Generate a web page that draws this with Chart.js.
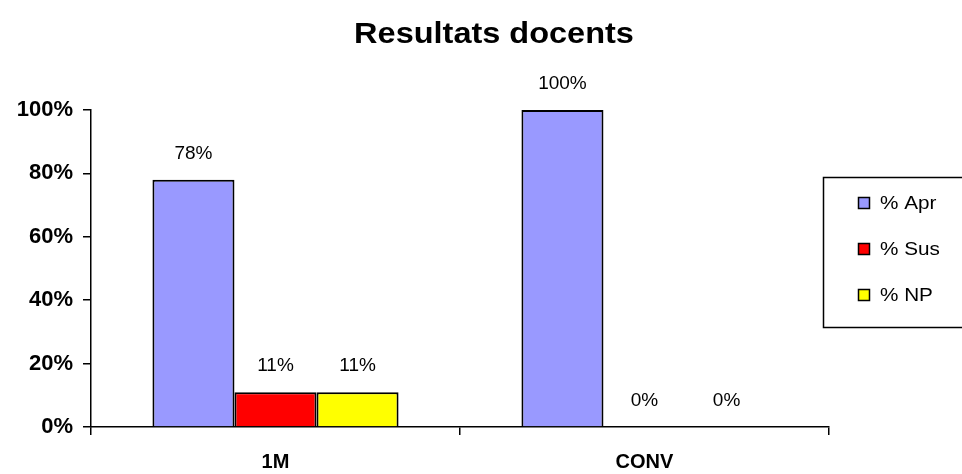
<!DOCTYPE html>
<html>
<head>
<meta charset="utf-8">
<script src="https://cdn.jsdelivr.net/npm/chart.js@4"></script>
<style>
  html, body { margin: 0; padding: 0; background: #fff; }
  #wrap { width: 962px; height: 474px; }
</style>
</head>
<body>
<div id="wrap"><canvas id="myChart" width="962" height="474"></canvas></div>
<script>
// data
var categories = ["1M", "CONV"];
var seriesNames = ["% Apr", "% Sus", "% NP"];
var aprValues = [78, 100];
var susValues = [11, 0];
var npValues = [11, 0];
var yTicks = [0, 20, 40, 60, 80, 100];
var colors = ["#9999ff", "#ff0000", "#ffff00"];

var FONT = "'Liberation Sans', Arial, sans-serif";

// text drawn a bit wider, like the original
function wideText(ctx, txt, x, y, sx) {
  ctx.save();
  ctx.translate(x, y);
  ctx.scale(sx, 1);
  ctx.fillText(txt, 0, 0);
  ctx.restore();
}

// title, value labels and the boxed legend
var extras = {
  id: 'extras',
  afterDatasetsDraw: function (chart) {
    var ctx = chart.ctx;
    ctx.save();
    ctx.fillStyle = '#000';
    ctx.textAlign = 'center';

    // title
    ctx.textBaseline = 'alphabetic';
    ctx.font = 'bold 29px ' + FONT;
    wideText(ctx, 'Resultats docents', 494, 43, 1.12);

    // value labels above bars
    ctx.textBaseline = 'middle';
    ctx.font = '19px ' + FONT;
    chart.data.datasets.forEach(function (ds, i) {
      chart.getDatasetMeta(i).data.forEach(function (bar, j) {
        ctx.fillText(ds.data[j] + '%', bar.x, bar.y - 26);
      });
    });

    // legend
    ctx.lineWidth = 1.5;
    ctx.strokeStyle = '#000';
    ctx.strokeRect(823.5, 177.5, 150, 150);
    ctx.textAlign = 'left';
    ctx.font = '18px ' + FONT;
    chart.data.datasets.forEach(function (ds, i) {
      var y = 203 + i * 46;
      ctx.fillStyle = ds.backgroundColor;
      ctx.fillRect(858, y - 6, 12, 12);
      ctx.lineWidth = 1.5;
      ctx.strokeRect(858.5, y - 5.5, 11, 11);
      ctx.fillStyle = '#000';
      wideText(ctx, ds.label, 880, y + 1, 1.15);
    });
    ctx.restore();
  }
};

var ctx = document.getElementById('myChart').getContext('2d');
var chart = new Chart(ctx, {
  type: 'bar',
  data: {
    labels: categories,
    datasets: [
      { label: seriesNames[0], data: aprValues, backgroundColor: colors[0] },
      { label: seriesNames[1], data: susValues, backgroundColor: colors[1] },
      { label: seriesNames[2], data: npValues, backgroundColor: colors[2] }
    ].map(function (d) {
      d.borderColor = '#000';
      d.borderWidth = 2;
      d.borderSkipped = 'bottom';
      d.categoryPercentage = 0.667;
      d.barPercentage = 1;
      return d;
    })
  },
  options: {
    responsive: false,
    animation: false,
    layout: { padding: { top: 110, right: 133, left: 0, bottom: 0 } },
    plugins: {
      legend: { display: false },
      title: { display: false },
      tooltip: { enabled: false }
    },
    scales: {
      x: {
        afterFit: function (s) { s.height = 47; },
        grid: { display: true, offset: true, drawOnChartArea: false, tickLength: 8, color: '#000', lineWidth: 1.5 },
        border: { display: true, color: '#000', width: 1.5 },
        ticks: { color: '#000', padding: 15, font: { family: FONT, size: 20, weight: 'bold' } }
      },
      y: {
        min: 0,
        max: 100,
        afterFit: function (s) { s.width = 91; },
        afterBuildTicks: function (s) { s.ticks = yTicks.map(function (v) { return { value: v }; }); },
        grid: { display: true, drawOnChartArea: false, tickLength: 8, color: '#000', lineWidth: 1.5 },
        border: { display: true, color: '#000', width: 1.5 },
        ticks: {
          color: '#000',
          padding: 10,
          font: { family: FONT, size: 22, weight: 'bold' },
          callback: function (v) { return v + '%'; }
        }
      }
    }
  },
  plugins: [extras]
});
</script>
</body>
</html>
